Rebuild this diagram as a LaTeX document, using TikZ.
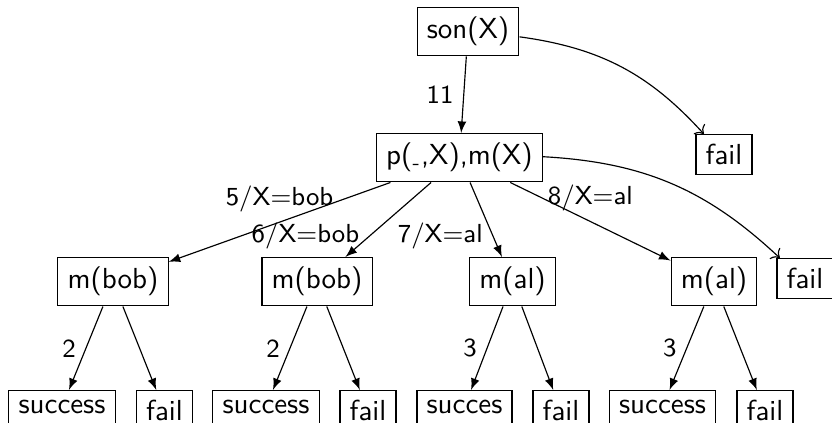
\documentclass[tikz,border=0pt]{standalone}
\usepackage{tikz}
\usetikzlibrary{arrows.meta, positioning}
\renewcommand{\familydefault}{\sfdefault}
\tikzset{
  goal/.style={draw, anchor=north, font=\sffamily},
  lbl/.style={font=\small\sffamily},
  step edge/.style={-latex},
  fail edge/.style={->}
}

\begin{document}
\begin{tikzpicture}[x=0.345pt,y=-0.345pt]
\useasboundingbox (0,0) rectangle (832,422);

% ── Root and first resolution step ───────────────────────────────────────────
\node[goal] (son) at (468,7) {son(X)};
\node[goal] (pm) at (459.5,133) {p(\textsubscript{-},X),m(X)};
\node[goal] (fail0) at (724,134) {fail};

\draw[step edge] (son) -- node[lbl, left] {11} (pm);
\draw[fail edge] (son) to[bend left=20] (fail0);

% ── Second level: m(...) goals ───────────────────────────────────────────────
\node[goal] (mb1) at (113,257) {m(bob)};
\node[goal] (mb2) at (317,257) {m(bob)};
\node[goal] (ma1) at (512.5,257) {m(al)};
\node[goal] (ma2) at (714,257) {m(al)};
\node[goal] (fail1) at (805,258) {fail};

\draw[step edge] (pm) -- node[lbl, above] {5/X=bob} (mb1);
\draw[step edge] (pm) -- node[lbl, left, pos=0.72] {6/X=bob} (mb2);
\draw[step edge] (pm) -- node[lbl, left, pos=0.72] {7/X=al} (ma1);
\draw[step edge] (pm) -- node[lbl, above] {8/X=al} (ma2);
\draw[fail edge] (pm) to[bend left=20] (fail1);

% ── Leaves ───────────────────────────────────────────────────────────────────
\foreach \n/\x/\txt in {s1/62/success, f1/164.5/fail, s2/266/success, f2/368/fail,
                        s3/464.5/succes, f3/561/fail, s4/662.5/success, f4/765/fail} {
  \node[goal] (\n) at (\x,390) {\txt};
}

\foreach \m/\k/\r in {mb1/1/2, mb2/2/2, ma1/3/3, ma2/4/3} {
  \draw[step edge] (\m) -- node[lbl, left] {\r} (s\k);
  \draw[step edge] (\m) -- (f\k);
}

\end{tikzpicture}
\end{document}
